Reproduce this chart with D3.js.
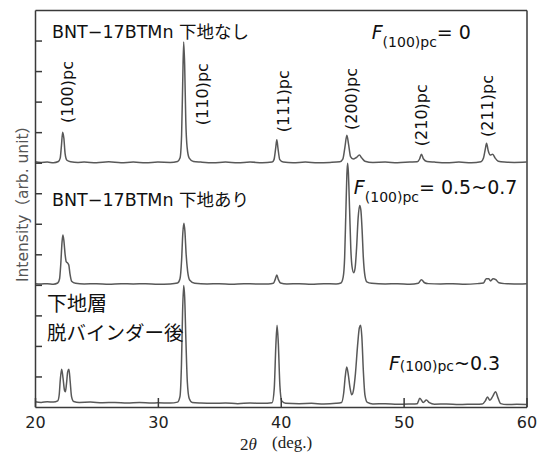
<!DOCTYPE html>
<html>
<head>
<meta charset="utf-8">
<script src="https://d3js.org/d3.v7.min.js"></script>
<style>
  body { margin: 0; background: #fff; }
  .axis path, .axis line { stroke: #3a3a3a; stroke-width: 1.5; }
  .axis text { font-family: 'DejaVu Sans', sans-serif; font-size: 16px; fill: #222; }
  .trace { fill: none; stroke: #585858; stroke-width: 1.5; }
  .lbl { font-family: 'DejaVu Sans', 'Noto Sans CJK JP', sans-serif; fill: #111; }
</style>
</head>
<body>
<svg width="537" height="455"></svg>
<script>
// x axis ticks and sample names
var xTicks = [20, 30, 40, 50, 60];
var yTicks = [1, 2, 3, 4, 5, 6, 7, 8, 9, 10, 11, 12];
var sampleNames = ["BNT−17BTMn 下地なし", "BNT−17BTMn 下地あり", "下地層", "脱バインダー後"];
var fValues = ["= 0", "= 0.5~0.7", "~0.3"];
var peakNames = ["(100)pc", "(110)pc", "(111)pc", "(200)pc", "(210)pc", "(211)pc"];
var peakPos = [22.6, 33.6, 40.2, 45.7, 51.4, 56.8];

// traces: [2theta, intensity (offset, arb.)]
var traceNone = [
  [20.0,8.03],[20.5,8.01],[21.0,8.02],[21.5,8.0],[21.9,8.04],[22.05,8.15],[22.15,8.55],[22.25,9.0],[22.35,8.8],[22.45,8.3],[22.6,8.08],[22.9,8.03],
  [23.5,8.01],[24.0,8.02],[25.0,8.0],[26.0,8.03],[27.0,8.0],[28.0,8.02],[29.0,8.0],[30.0,8.02],[31.0,8.01],[31.6,8.04],[31.8,8.15],[31.93,8.9],
  [32.02,10.6],[32.1,11.95],[32.18,11.2],[32.27,9.4],[32.38,8.5],[32.55,8.15],[32.9,8.04],[33.5,8.02],[34.5,8.0],[35.5,8.02],[36.5,8.0],[37.5,8.02],
  [38.5,8.0],[39.3,8.02],[39.45,8.1],[39.58,8.45],[39.68,8.75],[39.78,8.45],[39.92,8.1],[40.2,8.02],[41.0,8.0],[42.0,8.02],[43.0,8.0],[44.0,8.01],
  [44.8,8.03],[45.05,8.12],[45.22,8.5],[45.38,8.9],[45.52,8.6],[45.68,8.2],[45.9,8.12],[46.15,8.17],[46.4,8.25],[46.6,8.15],[46.85,8.05],[47.5,8.01],
  [48.5,8.02],[49.5,8.0],[50.5,8.02],[51.1,8.03],[51.3,8.12],[51.45,8.28],[51.62,8.12],[51.9,8.04],[52.5,8.02],[53.5,8.0],[54.5,8.02],[55.5,8.0],
  [56.3,8.03],[56.5,8.15],[56.65,8.45],[56.75,8.64],[56.88,8.4],[57.05,8.25],[57.25,8.28],[57.45,8.15],[57.7,8.05],[58.2,8.02],[59.0,8.01],[60.0,8.02]
];
var traceSeed = [
  [20.0,4.04],[20.5,4.03],[21.0,4.04],[21.5,4.02],[21.85,4.06],[22.0,4.2],[22.1,4.7],[22.2,5.4],[22.27,5.63],[22.35,5.45],[22.45,5.0],[22.55,4.75],
  [22.65,4.72],[22.75,4.65],[22.85,4.35],[22.98,4.12],[23.3,4.05],[24.0,4.03],[25.0,4.04],[26.0,4.02],[27.0,4.04],[28.0,4.03],[29.0,4.04],[30.0,4.02],
  [31.0,4.03],[31.6,4.06],[31.8,4.2],[31.93,4.8],[32.03,5.7],[32.12,6.02],[32.2,5.75],[32.3,5.0],[32.42,4.45],[32.6,4.15],[33.0,4.05],[34.0,4.03],
  [35.0,4.04],[36.0,4.02],[37.0,4.04],[38.0,4.03],[39.0,4.03],[39.4,4.05],[39.55,4.18],[39.68,4.32],[39.8,4.18],[39.98,4.06],[40.5,4.03],[41.5,4.04],
  [42.5,4.02],[43.5,4.04],[44.5,4.03],[44.9,4.06],[45.08,4.25],[45.2,4.9],[45.3,6.4],[45.38,7.6],[45.44,7.98],[45.5,7.7],[45.6,6.5],[45.7,5.2],
  [45.8,4.6],[45.93,4.4],[46.05,4.55],[46.17,5.2],[46.3,6.2],[46.42,6.6],[46.52,6.45],[46.62,5.8],[46.72,4.9],[46.85,4.3],[47.0,4.1],[47.4,4.05],
  [48.5,4.03],[49.5,4.04],[50.5,4.02],[51.2,4.05],[51.45,4.17],[51.7,4.07],[52.0,4.04],[53.0,4.03],[54.0,4.04],[55.0,4.02],[56.0,4.04],[56.5,4.06],
  [56.72,4.2],[56.92,4.2],[57.08,4.13],[57.28,4.2],[57.5,4.17],[57.75,4.07],[58.2,4.04],[59.0,4.03],[60.0,4.04]
];
var traceLayer = [
  [20.0,0.17],[20.5,0.15],[21.0,0.17],[21.5,0.16],[21.85,0.2],[21.97,0.4],[22.06,0.9],[22.17,1.24],[22.28,0.95],[22.4,0.55],[22.47,0.5],[22.56,0.75],
  [22.66,1.15],[22.76,1.24],[22.86,0.85],[22.97,0.35],[23.15,0.18],[23.6,0.15],[24.5,0.16],[25.5,0.14],[26.5,0.15],[27.5,0.13],[28.5,0.15],[29.5,0.13],
  [30.0,0.14],[31.0,0.13],[31.6,0.16],[31.8,0.35],[31.92,1.4],[32.01,3.1],[32.1,3.98],[32.18,3.6],[32.28,2.2],[32.4,0.8],[32.55,0.28],[32.8,0.15],
  [33.5,0.13],[34.5,0.12],[35.5,0.13],[36.5,0.11],[37.5,0.13],[38.5,0.12],[39.3,0.14],[39.47,0.6],[39.6,2.0],[39.7,2.68],[39.8,2.1],[39.93,0.7],
  [40.08,0.2],[40.4,0.12],[41.5,0.11],[42.5,0.12],[43.5,0.1],[44.5,0.12],[44.95,0.15],[45.12,0.45],[45.25,1.0],[45.37,1.31],[45.5,1.05],[45.63,0.65],
  [45.78,0.4],[45.92,0.55],[46.08,1.1],[46.25,2.0],[46.4,2.6],[46.5,2.68],[46.6,2.3],[46.72,1.2],[46.85,0.4],[47.05,0.15],[47.5,0.1],[48.5,0.11],
  [49.5,0.09],[50.5,0.1],[51.1,0.11],[51.32,0.29],[51.6,0.15],[51.85,0.23],[52.1,0.14],[52.5,0.09],[53.5,0.1],[54.5,0.08],[55.5,0.09],[56.4,0.1],
  [56.65,0.2],[56.82,0.33],[57.02,0.22],[57.25,0.35],[57.48,0.5],[57.68,0.3],[57.9,0.11],[58.4,0.08],[59.2,0.09],[60.0,0.08]
];

var svg = d3.select("svg");
var x = d3.scaleLinear().domain([20, 60]).range([35, 526.5]);
var y = d3.scaleLinear().domain([0, 13]).range([407, 10]);

var line = d3.line()
  .x(function(d) { return x(d[0]); })
  .y(function(d) { return y(d[1]); })
  .curve(d3.curveMonotoneX);

svg.selectAll(".trace")
  .data([traceLayer, traceSeed, traceNone])
  .enter().append("path")
  .attr("class", "trace")
  .attr("d", line);

// frame + axes (ticks inward)
svg.append("g").attr("class", "axis")
  .attr("transform", "translate(0,407)")
  .call(d3.axisBottom(x).tickValues(xTicks).tickSizeInner(-9).tickSizeOuter(0));
svg.append("g").attr("class", "axis")
  .attr("transform", "translate(35,0)")
  .call(d3.axisLeft(y).tickValues(yTicks).tickSizeInner(-7).tickSizeOuter(0).tickFormat(""));
svg.append("g").attr("class", "axis")
  .attr("transform", "translate(0,10)")
  .call(d3.axisTop(x).tickValues([]).tickSizeOuter(0));
svg.append("g").attr("class", "axis")
  .attr("transform", "translate(526.5,0)")
  .call(d3.axisRight(y).tickValues([]).tickSizeOuter(0));
svg.selectAll(".axis text").attr("y", 10).attr("dy", "0.71em");

// sample names
svg.append("text").attr("class", "lbl").attr("x", x(21.38)).attr("y", y(12.08))
  .style("font-size", "17.5px").text(sampleNames[0]);
svg.append("text").attr("class", "lbl").attr("x", x(21.38)).attr("y", y(6.58))
  .style("font-size", "17.5px").text(sampleNames[1]);
svg.append("text").attr("class", "lbl").attr("x", x(20.98)).attr("y", y(3.14))
  .style("font-size", "20px").text(sampleNames[2]);
svg.append("text").attr("class", "lbl").attr("x", x(20.98)).attr("y", y(2.2))
  .style("font-size", "19.5px").text(sampleNames[3]);

// peak labels (rotated)
var peakBottom = [9.3, 9.23, 9.0, 9.07, 8.54, 8.84];
peakNames.forEach(function(p, i) {
  svg.append("text").attr("class", "lbl")
    .attr("transform", "translate(" + (x(peakPos[i]) + 6) + "," + y(peakBottom[i]) + ") rotate(-90)")
    .style("font-size", "16px")
    .text(p);
});

// F(100)pc annotations
function fLabel(xv, yv, subDy, val) {
  var t = svg.append("text").attr("class", "lbl")
    .attr("x", x(xv)).attr("y", y(yv)).style("font-size", "19px");
  t.append("tspan").style("font-style", "italic").text("F");
  t.append("tspan").attr("dy", subDy).style("font-size", "14px").text("(100)pc");
  t.append("tspan").attr("dy", -subDy).text(val);
}
fLabel(47.4, 12.04, 8, fValues[0]);
fLabel(45.95, 6.99, 8, fValues[1]);
fLabel(48.8, 1.21, 1, fValues[2]);

// axis titles
svg.append("text")
  .attr("transform", "translate(28,200) rotate(-90)")
  .attr("text-anchor", "middle")
  .style("font-family", "'DejaVu Sans', 'Noto Sans CJK JP', sans-serif")
  .style("font-size", "15.5px")
  .style("fill", "#555")
  .text("Intensity（arb. unit）");

var xt = svg.append("text")
  .style("font-family", "'Liberation Serif', serif")
  .style("font-size", "17px")
  .style("fill", "#222");
xt.append("tspan").attr("x", 240).attr("y", 450).text("2");
xt.append("tspan").style("font-style", "italic").text("θ");
xt.append("tspan").attr("x", 272).attr("y", 448).text("(deg.)");
</script>
</body>
</html>
